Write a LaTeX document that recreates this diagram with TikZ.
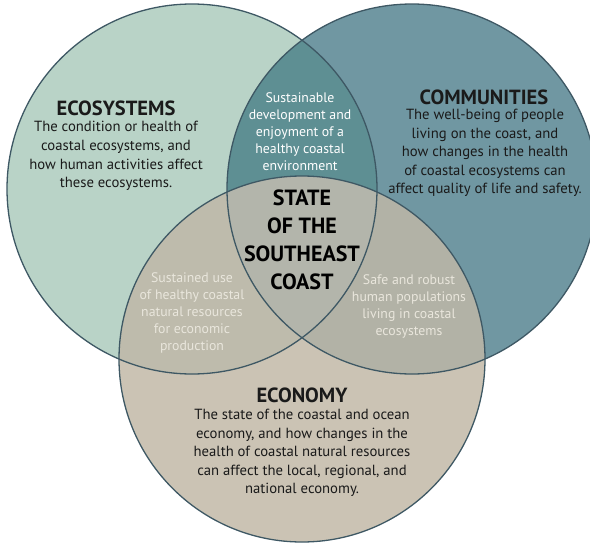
\documentclass[tikz,border=0pt]{standalone}
\usepackage{fontspec}
\setmainfont{PT Sans}

\definecolor{ecofill}{HTML}{B9D3C7}
\definecolor{comfill}{HTML}{7097A2}
\definecolor{econfill}{HTML}{CBC3B4}
\definecolor{ecocom}{HTML}{5E8F93}
\definecolor{ecoecon}{HTML}{BEBBAC}
\definecolor{comecon}{HTML}{B2B2A6}
\definecolor{allthree}{HTML}{B3B5AB}
\definecolor{rim}{HTML}{3E5864}
\definecolor{darktext}{HTML}{1A1A1A}
\definecolor{paletext}{HTML}{E9E6DC}

\tikzset{
    rimline/.style={draw=rim, line width=1.3pt},
    heading/.style={font=\fontsize{20.5}{22}\selectfont\bfseries, text=darktext, inner sep=0pt},
    bodytext/.style={font=\fontsize{14.7}{18.6}\selectfont, align=center, text=darktext, inner sep=0pt},
    overlaptext/.style={font=\fontsize{13.8}{17}\selectfont, align=center, text=paletext, inner sep=0pt},
    coretext/.style={font=\fontsize{22}{28}\selectfont\bfseries, align=center, text=black, inner sep=0pt}
}

\newcommand{\ecocirc}{(192,189) circle (185pt)}
\newcommand{\comcirc}{(412,189) circle (185pt)}
\newcommand{\econcirc}{(302,359) circle (183pt)}

\begin{document}
\begin{tikzpicture}[x=1pt, y=-1pt]

    \useasboundingbox (0,0) rectangle (590,544);
    \clip (0,0) rectangle (590,544);

    % the three circles
    \fill [ecofill] \ecocirc;
    \fill [comfill] \comcirc;
    \fill [econfill] \econcirc;

    % overlaps
    \begin{scope}
        \clip \ecocirc;
        \fill [ecocom] \comcirc;
        \fill [ecoecon] \econcirc;
    \end{scope}
    \begin{scope}
        \clip \comcirc;
        \fill [comecon] \econcirc;
        \clip \ecocirc;
        \fill [allthree] \econcirc;
    \end{scope}

    \draw [rimline] \ecocirc;
    \draw [rimline] \comcirc;
    \draw [rimline] \econcirc;

    % ecosystems
    \node (ecohead) [heading] at (116,108) {ECOSYSTEMS};
    \node (ecobody) [bodytext] at (116,156) {The condition or health of\\coastal ecosystems, and\\how human activities affect\\these ecosystems.};

    % communities
    \node (comhead) [heading] at (484,97) {COMMUNITIES};
    \node (combody) [bodytext] at (485,153) {The well-being of people\\living on the coast, and\\how changes in the health\\of coastal ecosystems can\\affect quality of life and safety.};

    % economy
    \node (econhead) [heading] at (302,395) {ECONOMY};
    \node (econbody) [bodytext] at (302,453) {The state of the coastal and ocean\\economy, and how changes in the\\health of coastal natural resources\\can affect the local, regional, and\\national economy.};

    % overlaps
    \node (ecocomtext) [overlaptext, text=white] at (300,132) {Sustainable\\development and\\enjoyment of a\\healthy coastal\\environment};
    \node (ecoecontext) [overlaptext] at (192,313) {Sustained use\\of healthy coastal\\natural resources\\for economic\\production};
    \node (comecontext) [overlaptext] at (409,306) {Safe and robust\\human populations\\living in coastal\\ecosystems};

    \node (core) [coretext] at (302,240) {STATE\\OF THE\\SOUTHEAST\\COAST};

\end{tikzpicture}
\end{document}
